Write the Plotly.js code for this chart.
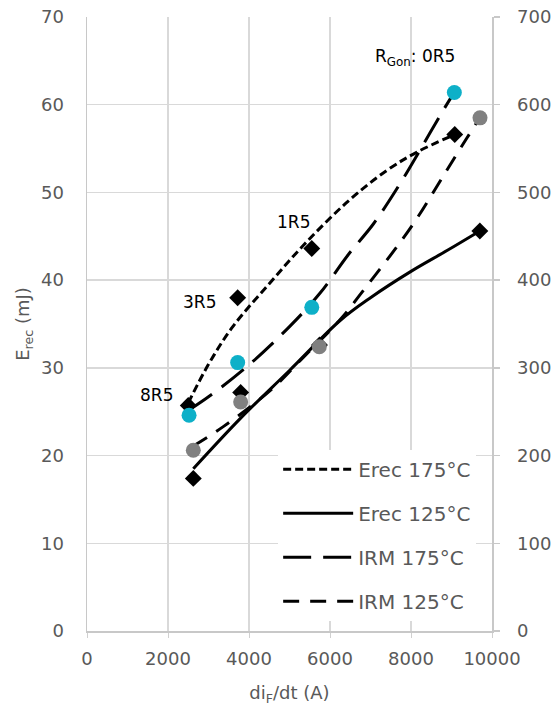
<!DOCTYPE html>
<html>
<head>
<meta charset="utf-8">
<script src="https://cdn.plot.ly/plotly-3.0.1.min.js"></script>
<style>html,body{margin:0;padding:0;background:#fff;}#chart{width:555px;height:711px;}</style>
</head>
<body>
<div id="chart"></div>
<script>
// Measured points: di/dt (A) vs Erec (mJ) and IRM (A)
const erec175X = [2500, 3720, 5550, 9080];
const erec175Y = [25.7, 38.0, 43.6, 56.6];
const erec125X = [2625, 3794, 5740, 9700];
const erec125Y = [17.4, 27.2, 32.6, 45.6];
const irm175X = [2520, 3720, 5550, 9070];
const irm175Y = [246, 306, 369, 614];
const irm125X = [2625, 3794, 5736, 9704];
const irm125Y = [206, 261, 324, 585];

// Trend curves
const trendErec175X = [2500, 3000, 3600, 4500, 5350, 6400, 7400, 8150, 9080];
const trendErec175Y = [26.0, 30.4, 34.7, 39.6, 44.0, 48.8, 52.5, 54.6, 56.6];
const trendErec125X = [2625, 3800, 5000, 6250, 7000, 8000, 8900, 9700];
const trendErec125Y = [18.5, 24.3, 29.7, 35.4, 38.0, 41.0, 43.4, 45.6];
const trendIrm175X = [2520, 3000, 3940, 5000, 5750, 6450, 7070, 7730, 8220, 8800, 9070];
const trendIrm175Y = [252, 267, 301, 347, 385, 429, 464, 510, 548, 594, 614];
const trendIrm125X = [2625, 3365, 4520, 5340, 6270, 6820, 7650, 8140, 8880, 9380, 9700];
const trendIrm125Y = [211, 233, 274, 312, 356, 388, 438, 470, 525, 562, 585];

const legendNames = ['Erec 175°C', 'Erec 125°C', 'IRM 175°C', 'IRM 125°C'];

const labelText = ['8R5', '3R5', '1R5', 'R<sub>Gon</sub>: 0R5'];
const labelX = [2180, 3240, 5560, 9140];
const labelY = [26.9, 37.5, 46.6, 65.4];

const FONT = 'DejaVu Sans, sans-serif';
const GREY = '#595959';

const traces = [
  {x: trendErec175X, y: trendErec175Y, name: legendNames[0], mode: 'lines', line: {color: '#000', width: 3, dash: '8px,4px', shape: 'spline'}, legendgroup: 'a', yaxis: 'y'},
  {x: trendErec125X, y: trendErec125Y, name: legendNames[1], mode: 'lines', line: {color: '#000', width: 3, shape: 'spline'}, legendgroup: 'b', yaxis: 'y'},
  {x: trendIrm175X, y: trendIrm175Y, name: legendNames[2], mode: 'lines', line: {color: '#000', width: 3, dash: '28px,12px', shape: 'spline'}, legendgroup: 'c', yaxis: 'y2'},
  {x: trendIrm125X, y: trendIrm125Y, name: legendNames[3], mode: 'lines', line: {color: '#000', width: 3, dash: '16px,11px', shape: 'spline'}, legendgroup: 'd', yaxis: 'y2'},
  {x: erec175X, y: erec175Y, mode: 'markers', marker: {symbol: 'diamond', size: 13, color: '#000'}, showlegend: false, yaxis: 'y'},
  {x: erec125X, y: erec125Y, mode: 'markers', marker: {symbol: 'diamond', size: 13, color: '#000'}, showlegend: false, yaxis: 'y'},
  {x: irm175X, y: irm175Y, mode: 'markers', marker: {symbol: 'circle', size: 15, color: '#0eb0c8'}, showlegend: false, yaxis: 'y2'},
  {x: irm125X, y: irm125Y, mode: 'markers', marker: {symbol: 'circle', size: 15, color: '#808080'}, showlegend: false, yaxis: 'y2'}
];

const annotations = labelText.map((t, i) => ({
  text: t, x: labelX[i], y: labelY[i], xref: 'x', yref: 'y',
  xanchor: 'right', yanchor: 'middle', showarrow: false,
  font: {family: FONT, size: 17, color: '#000'}
}));

const layout = {
  width: 555, height: 711,
  margin: {l: 87, r: 63, t: 17, b: 80},
  paper_bgcolor: '#fff', plot_bgcolor: '#fff',
  font: {family: FONT, color: GREY, size: 18},
  showlegend: true,
  xaxis: {
    range: [0, 10000], dtick: 2000, tick0: 0, autorange: false,
    tickformat: 'd',
    showgrid: true, gridcolor: '#d9d9d9', gridwidth: 1.5,
    showline: true, linecolor: '#c8c8c8', linewidth: 1.5,
    ticks: 'outside', ticklen: 5, tickcolor: '#d0d0d0',
    ticklabelstandoff: 6,
    zeroline: false,
    tickfont: {family: FONT, size: 18, color: GREY},
    title: {text: 'di<sub>F</sub>/dt (A)', font: {family: FONT, size: 18, color: GREY}, standoff: 18}
  },
  yaxis: {
    range: [0, 70], dtick: 10, tick0: 0, autorange: false,
    showgrid: true, gridcolor: '#d9d9d9', gridwidth: 1.5,
    showline: true, linecolor: '#c8c8c8', linewidth: 1.5,
    ticks: '', zeroline: false,
    ticklabelstandoff: 18,
    tickfont: {family: FONT, size: 18, color: GREY},
    title: {text: 'E<sub>rec</sub> (mJ)', font: {family: FONT, size: 18, color: GREY}, standoff: 6}
  },
  yaxis2: {
    range: [0, 700], dtick: 100, tick0: 0, autorange: false,
    overlaying: 'y', side: 'right',
    showgrid: false, showline: true, linecolor: '#c8c8c8', linewidth: 1.5,
    ticks: 'outside', ticklen: 6, tickcolor: '#c8c8c8', tickwidth: 1.5,
    ticklabelstandoff: 14,
    zeroline: false,
    tickfont: {family: FONT, size: 18, color: GREY}
  },
  legend: {
    x: 0.472, y: 0.295, xanchor: 'left', yanchor: 'top',
    bgcolor: '#fff', borderwidth: 0,
    itemwidth: 70, traceorder: 'grouped', tracegroupgap: 15,
    font: {family: FONT, size: 20, color: GREY}
  },
  annotations: annotations
};

Plotly.newPlot('chart', traces, layout, {displayModeBar: false, staticPlot: true});
</script>
</body>
</html>
